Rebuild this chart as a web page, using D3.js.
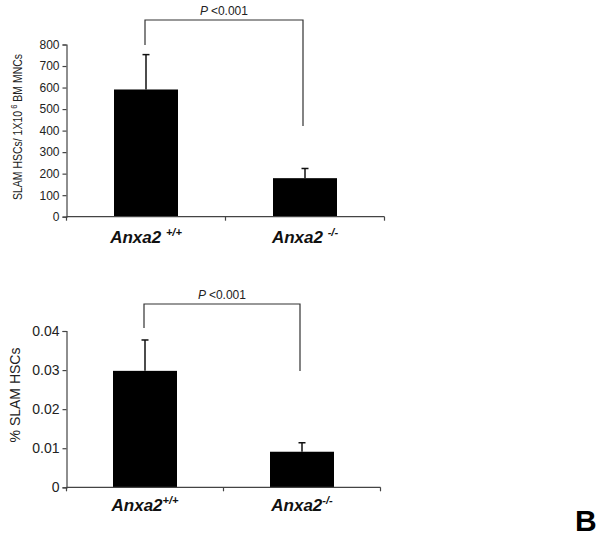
<!DOCTYPE html>
<html>
<head>
<meta charset="utf-8">
<script src="https://cdn.jsdelivr.net/npm/d3@7"></script>
<style>
    body { margin: 0; background: #fff; }
    svg { display: block; }
    .tick text { fill: #222; }
</style>
</head>
<body>
<div id="wrapper"></div>
<script>
// data
const groups = ['Anxa2 +/+', 'Anxa2 -/-'];
const genotypes = ['+/+', '-/-'];
const countMeans = [591, 179];
const countUpper = [753, 224];
const countTicks = [0, 100, 200, 300, 400, 500, 600, 700, 800];
const pctMeans = [0.0298, 0.0091];
const pctUpper = [0.0377, 0.0114];
const pctTicks = [0, 0.01, 0.02, 0.03, 0.04];
const pLabel = '<0.001';

function drawPanel(svg, opts) {
    const g = svg.append('g')
        .attr('transform', `translate(${opts.left}, 0)`);

    const xScale = d3.scalePoint()
        .domain(groups)
        .range([0, opts.width])
        .padding(0.5);

    const yScale = d3.scaleLinear()
        .domain([0, d3.max(opts.ticks)])
        .range([opts.bottom, opts.top]);

    const barW = 64;
    const axisColor = '#444';

    // bars
    g.selectAll('rect.bar')
        .data(opts.means)
        .join('rect')
        .attr('class', 'bar')
        .attr('x', (d, i) => xScale(groups[i]) - barW / 2)
        .attr('y', d => yScale(d))
        .attr('width', barW)
        .attr('height', d => yScale(0) - yScale(d))
        .attr('fill', '#000');

    // error bars (upper only)
    opts.upper.forEach((u, i) => {
        const cx = xScale(groups[i]);
        g.append('line')
            .attr('x1', cx).attr('x2', cx)
            .attr('y1', yScale(opts.means[i])).attr('y2', yScale(u))
            .attr('stroke', '#111').attr('stroke-width', 1.5);
        g.append('line')
            .attr('x1', cx - 3.5).attr('x2', cx + 3.5)
            .attr('y1', yScale(u)).attr('y2', yScale(u))
            .attr('stroke', '#111').attr('stroke-width', 1.5);
    });

    // y axis
    const yAxis = g.append('g')
        .call(d3.axisLeft(yScale)
            .tickValues(opts.ticks)
            .tickSize(4)
            .tickPadding(3)
            .tickFormat(opts.format));
    yAxis.select('.domain').attr('stroke', axisColor).attr('stroke-width', 1.2);
    yAxis.selectAll('.tick line').attr('stroke', axisColor).attr('stroke-width', 1.2);
    yAxis.selectAll('.tick text')
        .attr('font-family', 'Liberation Sans, Arial, sans-serif')
        .attr('font-size', opts.tickSize);

    // x axis: plain line with ticks at edges and between groups
    const xAxis = g.append('g');
    xAxis.append('line')
        .attr('x1', 0).attr('x2', opts.width)
        .attr('y1', yScale(0)).attr('y2', yScale(0))
        .attr('stroke', axisColor).attr('stroke-width', 1.2);
    xAxis.selectAll('line.xt')
        .data([0, opts.width / 2, opts.width])
        .join('line')
        .attr('class', 'xt')
        .attr('x1', d => d).attr('x2', d => d)
        .attr('y1', yScale(0)).attr('y2', yScale(0) + 4)
        .attr('stroke', axisColor).attr('stroke-width', 1.2);

    // category labels
    groups.forEach((grp, i) => {
        const t = g.append('text')
            .attr('x', xScale(grp))
            .attr('y', opts.labelY)
            .attr('text-anchor', 'middle')
            .attr('font-family', 'Liberation Sans, Arial, sans-serif')
            .attr('font-weight', 'bold')
            .attr('font-style', 'italic')
            .attr('font-size', 17)
            .attr('fill', '#111');
        t.append('tspan').text('Anxa2' + opts.gap);
        t.append('tspan')
            .attr('font-size', 11)
            .attr('dy', -7)
            .text(genotypes[i]);
    });

    // significance bracket
    const x1 = xScale(groups[0]) - 1;
    const x2 = xScale(groups[1]) - 2;
    g.append('path')
        .attr('d', `M${x1},${opts.legL} V${opts.bracketY} H${x2} V${opts.legR}`)
        .attr('fill', 'none')
        .attr('stroke', '#333')
        .attr('stroke-width', 1.2);

    const p = g.append('text')
        .attr('x', (x1 + x2) / 2)
        .attr('y', opts.bracketY - 5)
        .attr('text-anchor', 'middle')
        .attr('font-family', 'Liberation Sans, Arial, sans-serif')
        .attr('font-size', 12)
        .attr('fill', '#222');
    p.append('tspan').attr('font-style', 'italic').text('P ');
    p.append('tspan').text(pLabel);

    // y title
    const ty = svg.append('text')
        .attr('transform', `translate(${opts.titleX}, ${opts.titleY}) rotate(-90) scale(${opts.titleSqueeze}, 1)`)
        .attr('text-anchor', 'middle')
        .attr('font-family', 'Liberation Sans, Arial, sans-serif')
        .attr('font-size', opts.titleSize)
        .attr('fill', '#222');
    opts.title(ty);
}

const svg = d3.select('#wrapper')
    .append('svg')
    .attr('width', 601)
    .attr('height', 537);

drawPanel(svg, {
    left: 66.5,
    width: 318,
    top: 44.5,
    bottom: 216.7,
    ticks: countTicks,
    means: countMeans,
    upper: countUpper,
    format: d3.format('d'),
    tickSize: 12,
    gap: ' ',
    labelY: 243,
    bracketY: 20,
    legL: 45,
    legR: 126,
    titleX: 22,
    titleY: 127,
    titleSize: 12.5,
    titleSqueeze: 0.84,
    title: t => {
        t.append('tspan').text('SLAM HSCs/ 1X10');
        t.append('tspan').attr('font-size', 9).attr('dy', -5).text(' 6');
        t.append('tspan').attr('dy', 5).text(' BM MNCs');
    }
});

drawPanel(svg, {
    left: 66.5,
    width: 314,
    top: 331,
    bottom: 487.3,
    ticks: pctTicks,
    means: pctMeans,
    upper: pctUpper,
    format: d => d === 0 ? '0' : d3.format('.2f')(d),
    tickSize: 14,
    gap: '',
    labelY: 511,
    bracketY: 304,
    legL: 328,
    legR: 371,
    titleX: 20,
    titleY: 395,
    titleSize: 14,
    titleSqueeze: 1,
    title: t => t.text('% SLAM HSCs')
});

// panel letter
svg.append('text')
    .attr('x', 575)
    .attr('y', 531)
    .attr('font-family', 'Liberation Sans, Arial, sans-serif')
    .attr('font-weight', 'bold')
    .attr('font-size', 30)
    .attr('fill', '#000')
    .text('B');
</script>
</body>
</html>
